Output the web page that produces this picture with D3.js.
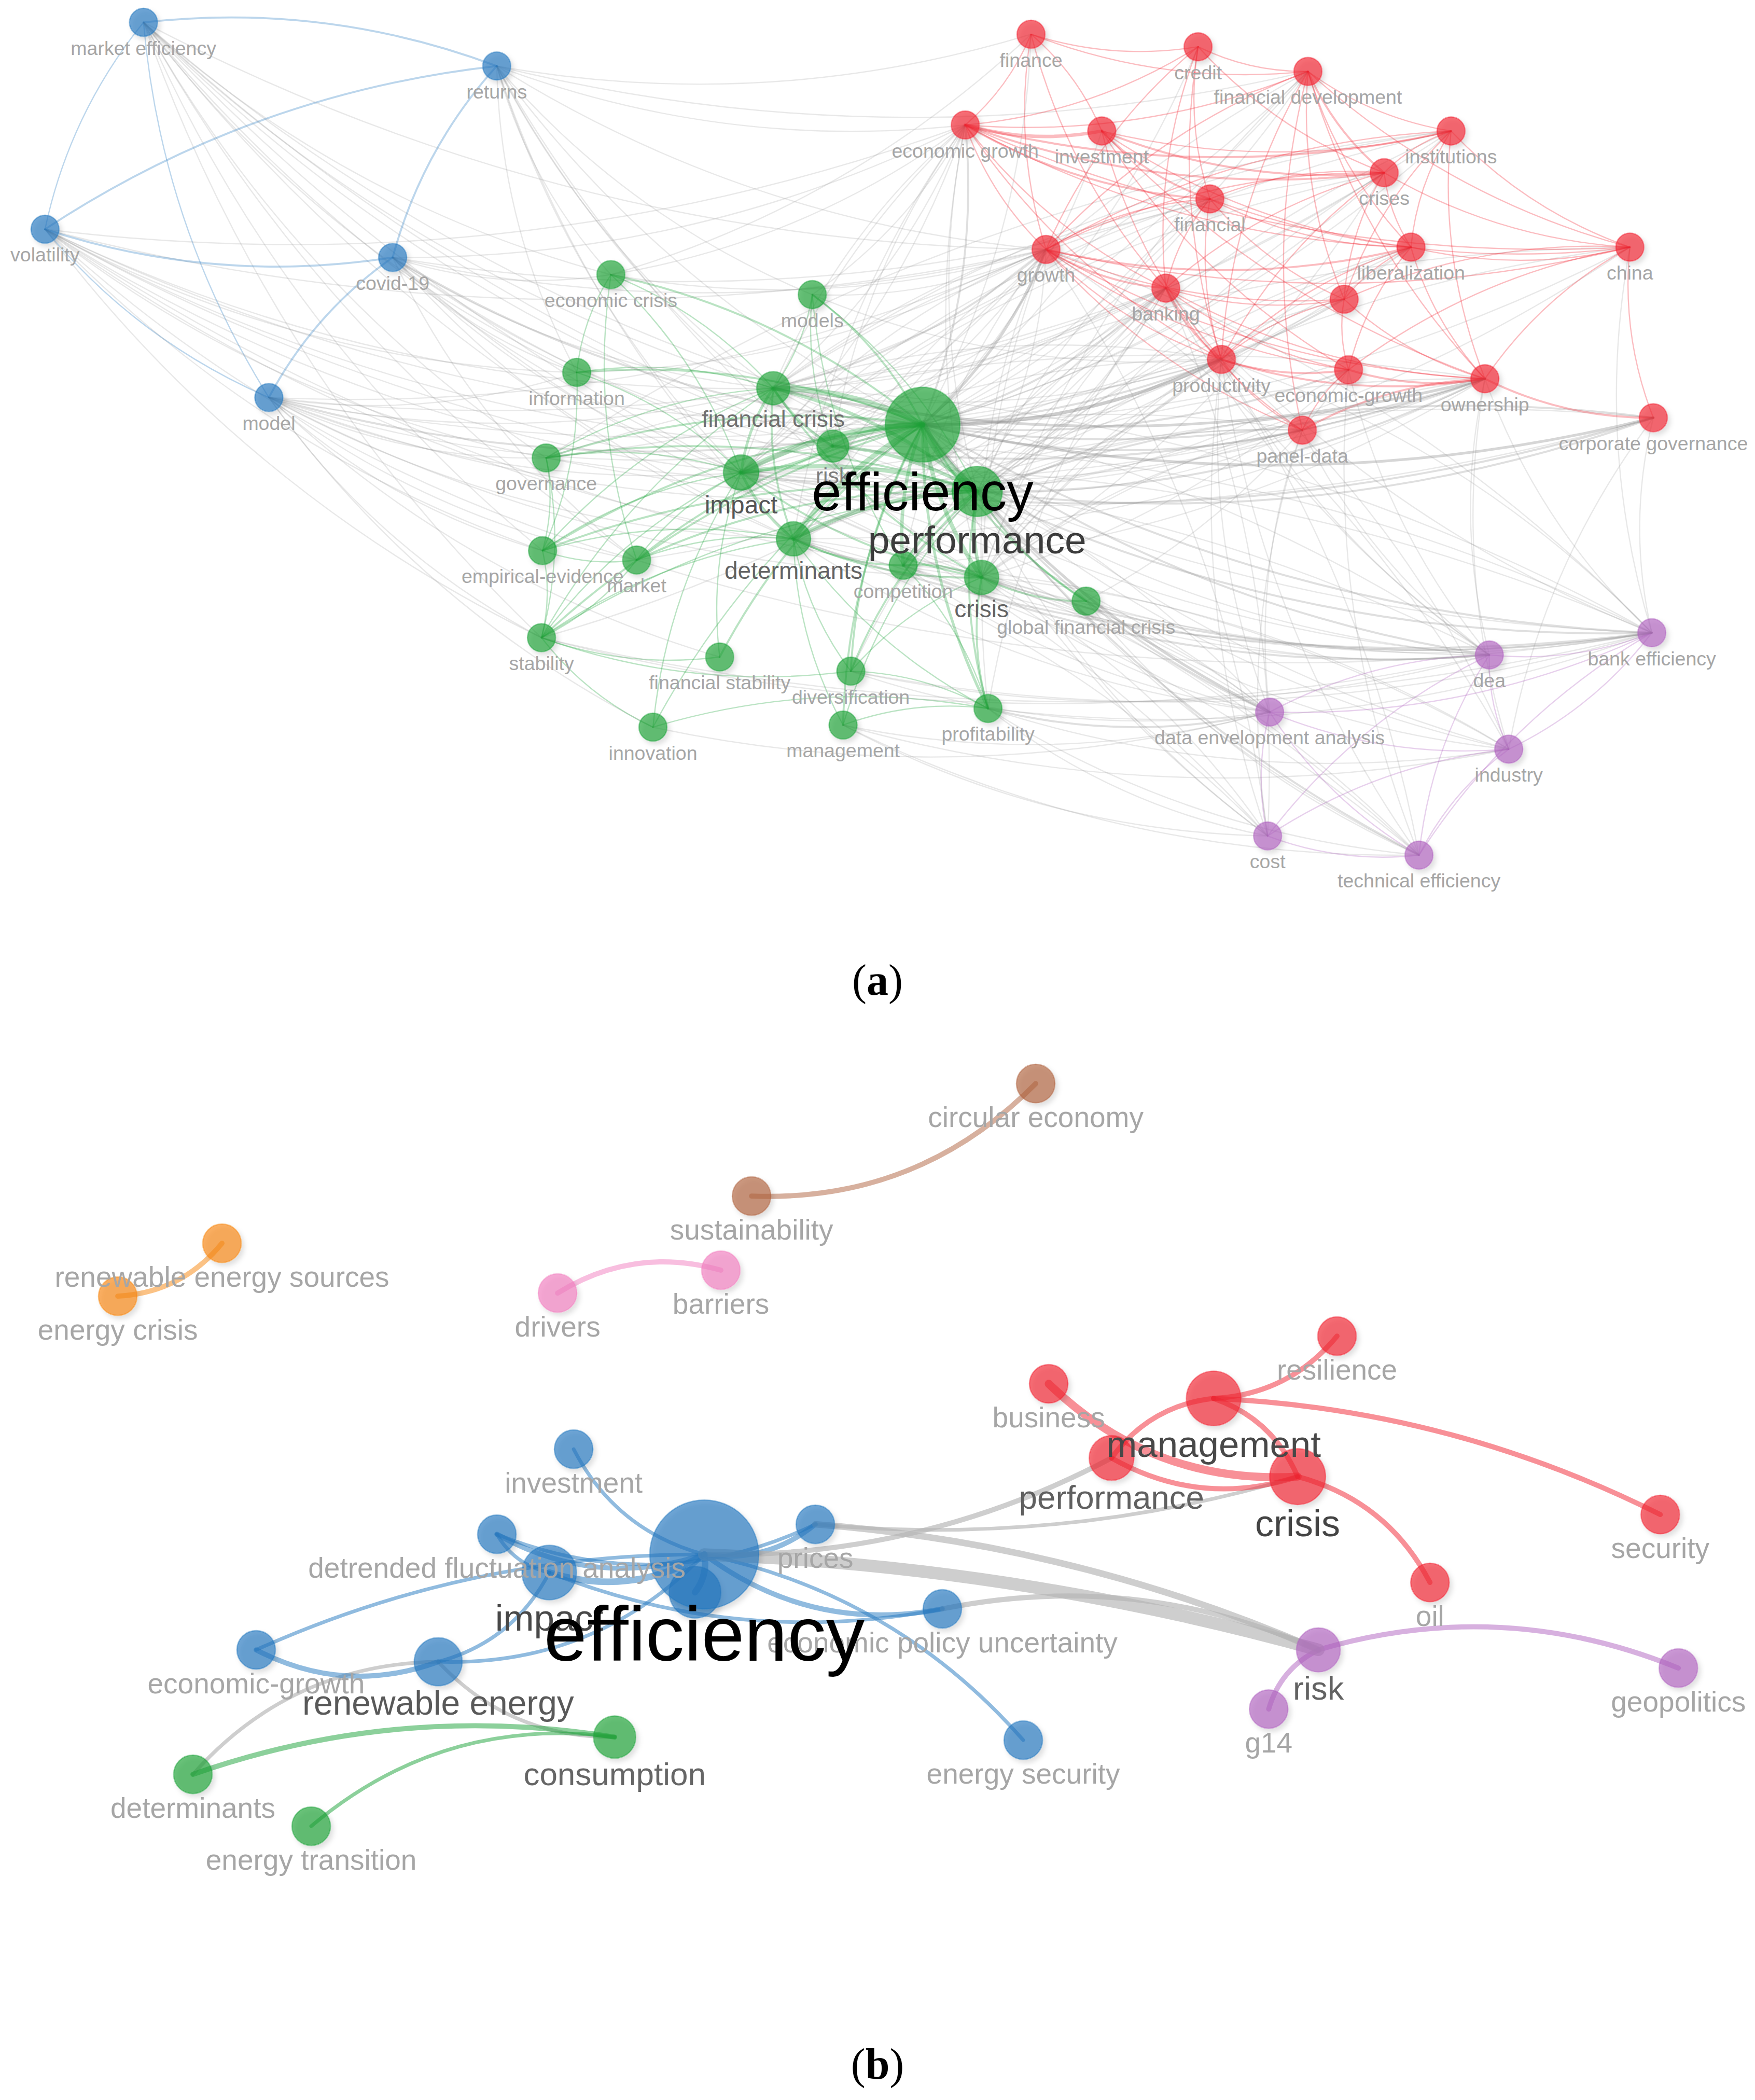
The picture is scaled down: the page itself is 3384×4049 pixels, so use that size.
<!DOCTYPE html>
<html>
<head>
<meta charset="utf-8">
<script src="https://cdn.jsdelivr.net/npm/d3@7"></script>
<style>
  body { margin: 0; background: #fff; }
  svg text { font-family: "Liberation Sans", Arial, sans-serif; }
</style>
</head>
<body>
<div id="chart"></div>
<script>
// Map coordinates (layout units) and occurrences, one array per cluster
// Panel (a)
const redA = [
    ["finance", 769.6, 25.6, 10],
    ["credit", 894.3, 34.9, 10],
    ["financial development", 976.3, 53.3, 10],
    ["economic growth", 720.5, 93.3, 10],
    ["investment", 822.4, 97.8, 10],
    ["institutions", 1083.1, 97.8, 10],
    ["crises", 1033.2, 128.9, 10],
    ["financial", 903.1, 148.5, 10],
    ["growth", 780.8, 186.2, 10],
    ["liberalization", 1053.2, 184.5, 10],
    ["china", 1216.6, 184.5, 10],
    ["banking", 870.2, 215.1, 10],
    ["_red", 1003.3, 223.4, 10],
    ["productivity", 911.7, 268.3, 10],
    ["economic-growth", 1006.6, 276, 10],
    ["ownership", 1108.4, 282.7, 10],
    ["corporate governance", 1234.1, 311.8, 10],
    ["panel-data", 972.1, 321.1, 10]
];
const greenA = [
    ["economic crisis", 456, 205, 10],
    ["models", 606.3, 219.9, 10],
    ["information", 430.5, 278, 10],
    ["financial crisis", 577.2, 289.8, 14],
    ["efficiency", 688.7, 317, 71],
    ["risk", 621.7, 333, 13],
    ["performance", 729.4, 366.8, 32],
    ["impact", 553.2, 352.7, 16],
    ["governance", 407.7, 341.8, 10],
    ["empirical-evidence", 405, 411, 10],
    ["market", 475.2, 418, 10],
    ["determinants", 592.3, 402.2, 15],
    ["competition", 674.2, 422, 10],
    ["crisis", 732.7, 431, 15],
    ["global financial crisis", 810.7, 448.7, 10],
    ["stability", 404.2, 476, 10],
    ["financial stability", 537.2, 490.4, 10],
    ["diversification", 635.1, 501, 10],
    ["profitability", 737.5, 528.8, 10],
    ["innovation", 487.4, 542.8, 10],
    ["management", 629.3, 541.2, 10]
];
const blueA = [
    ["market efficiency", 107.1, 16.7, 10],
    ["returns", 370.8, 49.3, 10],
    ["volatility", 33.6, 171.1, 10],
    ["covid-19", 293.1, 192.2, 10],
    ["model", 200.7, 296.7, 10]
];
const purpleA = [
    ["bank efficiency", 1233, 472.3, 10],
    ["dea", 1111.7, 488.9, 10],
    ["data envelopment analysis", 947.7, 531.5, 10],
    ["industry", 1126.2, 559.2, 10],
    ["cost", 946.2, 624, 10],
    ["technical efficiency", 1059.2, 638.3, 10]
];
const linksA = [
    "returns > volatility 2, market efficiency 2, covid-19 2",
    "market efficiency > volatility 1, model 1",
    "volatility > covid-19 2, model 1",
    "covid-19 > model 2",
    "market efficiency > efficiency 1, performance 1, financial crisis 1, impact 1, determinants 1, information 1, economic crisis 1, risk 1, crisis 1, growth 1, stability 1, governance 1, market 1, empirical-evidence 1",
    "returns > efficiency 1, economic crisis 1, financial crisis 1, impact 1, models 1, information 1, determinants 1, growth 1, finance 1, financial development 1, economic growth 1, risk 1, crisis 1",
    "volatility > efficiency 1, economic growth 1, impact 1, financial crisis 1, information 1, governance 1, determinants 1, performance 1, stability 1, growth 1, market 1, empirical-evidence 1, risk 1, crisis 1",
    "covid-19 > efficiency 2, performance 1, impact 1, financial crisis 1, risk 1, economic crisis 1, crisis 1, determinants 1, information 1, market 1, growth 1, economic growth 1, financial 1",
    "model > efficiency 2, performance 1, impact 1, financial crisis 1, determinants 1, risk 1, information 1, governance 1, market 1, stability 1, productivity 1, banking 1, growth 1, empirical-evidence 1, financial stability 1, innovation 1, crisis 1",
    "efficiency > performance 10, financial crisis 7, impact 7, risk 6, determinants 6, crisis 5, competition 4, economic crisis 2, models 2, information 2, governance 2, empirical-evidence 2, market 2, stability 2, financial stability 2, diversification 2, profitability 3, innovation 1, management 2, global financial crisis 2",
    "performance > financial crisis 4, impact 5, risk 4, determinants 5, crisis 4, competition 3, profitability 2, diversification 2, governance 2, empirical-evidence 2, market 2, stability 1, models 1, management 1, global financial crisis 2",
    "financial crisis > impact 3, risk 3, determinants 2, crisis 2, economic crisis 1, models 1, information 1, governance 1, stability 1, empirical-evidence 1",
    "impact > risk 3, determinants 3, crisis 2, governance 1, information 1, empirical-evidence 1, market 1, stability 1, innovation 1, financial stability 1, economic crisis 1",
    "determinants > crisis 2, competition 2, market 1, stability 1, empirical-evidence 1, diversification 1, profitability 1, management 1",
    "crisis > competition 2, global financial crisis 2, profitability 2, diversification 1",
    "stability > empirical-evidence 1, governance 1, market 1, financial stability 1, innovation 1, diversification 1",
    "empirical-evidence > governance 1, market 1, information 1",
    "profitability > diversification 1, management 1, innovation 1, competition 1",
    "models > risk 1, competition 1",
    "economic crisis > information 1, market 1",
    "efficiency > growth 3, productivity 4, banking 2, economic growth 2, economic-growth 2, ownership 2, panel-data 2, financial development 1, investment 1, credit 1, finance 1, financial 1, crises 1, institutions 1, liberalization 1, china 1, corporate governance 3, _red 2, dea 2, bank efficiency 2, data envelopment analysis 3, industry 1, cost 1, technical efficiency 2",
    "performance > productivity 2, ownership 2, corporate governance 2, banking 1, growth 1, economic-growth 1, panel-data 1, data envelopment analysis 2, dea 1, bank efficiency 2, industry 1, cost 1, technical efficiency 1, china 1",
    "financial crisis > growth 2, banking 1, financial development 1, economic growth 1, crises 1, productivity 1, ownership 3, bank efficiency 1",
    "impact > growth 1, economic growth 1, financial development 1, productivity 1, panel-data 1, ownership 1, corporate governance 2, dea 1",
    "determinants > data envelopment analysis 1, bank efficiency 2, ownership 1, banking 1",
    "crisis > bank efficiency 2, dea 1, data envelopment analysis 1, economic-growth 1, crises 1",
    "risk > banking 1, growth 1, ownership 2, dea 1",
    "competition > banking 1, bank efficiency 1, ownership 1, dea 2, data envelopment analysis 1",
    "global financial crisis > dea 1, industry 1, economic-growth 1, bank efficiency 1, technical efficiency 1",
    "profitability > data envelopment analysis 2, bank efficiency 1, industry 1, cost 1, technical efficiency 1",
    "economic crisis > growth 1, finance 1, economic growth 1",
    "models > growth 1, economic growth 1, productivity 1",
    "information > growth 1",
    "governance > ownership 1, corporate governance 1, institutions 1",
    "management > cost 1, industry 1, technical efficiency 1, data envelopment analysis 1",
    "diversification > bank efficiency 1, dea 1, data envelopment analysis 1",
    "market > liberalization 1, bank efficiency 1",
    "stability > banking 1, bank efficiency 1, dea 1",
    "innovation > data envelopment analysis 1",
    "growth > impact 1, determinants 1, crisis 1, competition 1, profitability 1",
    "productivity > determinants 1, competition 1, crisis 1, impact 1, financial crisis 1",
    "banking > crisis 1, determinants 1, profitability 1, competition 1, diversification 1",
    "ownership > determinants 1, crisis 1, governance 1",
    "economic growth > impact 1, financial crisis 1, determinants 1, performance 1, risk 1, crisis 1",
    "financial development > crisis 1, determinants 1",
    "liberalization > crisis 1, competition 1, performance 1",
    "crises > financial crisis 1, impact 1, crisis 1",
    "institutions > governance 1, impact 1, performance 1, financial crisis 1",
    "china > performance 1, impact 1",
    "corporate governance > performance 2, determinants 1",
    "financial > impact 1, performance 1, financial crisis 1",
    "panel-data > performance 1, crisis 1, impact 1, determinants 1",
    "_red > performance 1, crisis 1",
    "data envelopment analysis > crisis 1, impact 1, financial crisis 1, determinants 1",
    "bank efficiency > impact 1, financial crisis 1, risk 1, productivity 1, growth 1",
    "dea > impact 1, financial crisis 1",
    "industry > crisis 1, competition 1, productivity 1, growth 1",
    "cost > determinants 1, crisis 1, impact 1, banking 1, growth 1",
    "technical efficiency > determinants 1, impact 1, crisis 1, banking 1",
    "economic growth > investment 4, finance 1, credit 1, financial development 1, institutions 2, crises 2, financial 2, growth 1, banking 1, productivity 1, liberalization 1, china 1",
    "investment > finance 1, financial 2, crises 2, institutions 1, productivity 1, liberalization 1, ownership 1, economic-growth 1",
    "finance > credit 1, growth 1, banking 1, financial development 1",
    "credit > financial development 1, financial 1, crises 1, growth 1, productivity 1, banking 1",
    "financial development > institutions 1, crises 2, china 1, growth 1, liberalization 1, _red 1, productivity 1, panel-data 1, ownership 1",
    "institutions > crises 1, china 1, liberalization 1, _red 1, ownership 1, growth 1",
    "crises > financial 1, liberalization 1, growth 1, productivity 1, china 1, banking 1, _red 1",
    "financial > growth 1, liberalization 1, banking 1, china 1, _red 1, productivity 1",
    "growth > liberalization 2, banking 2, china 1, _red 1, productivity 1, economic-growth 1, ownership 1, panel-data 1",
    "liberalization > china 1, _red 1, economic-growth 1, ownership 1, productivity 1",
    "china > corporate governance 1, ownership 1, _red 1, economic-growth 1",
    "banking > productivity 2, _red 1, ownership 1, economic-growth 1, panel-data 1",
    "_red > productivity 1, economic-growth 1, ownership 1",
    "productivity > economic-growth 2, ownership 2, panel-data 1",
    "economic-growth > ownership 2, panel-data 1",
    "ownership > corporate governance 2, panel-data 2",
    "productivity > data envelopment analysis 1, technical efficiency 1, cost 1, dea 1",
    "banking > bank efficiency 1, dea 1",
    "ownership > bank efficiency 1, industry 1, dea 1",
    "corporate governance > bank efficiency 1, industry 1",
    "economic-growth > technical efficiency 1, dea 1",
    "panel-data > dea 1, cost 1, data envelopment analysis 1",
    "china > bank efficiency 1",
    "dea > bank efficiency 1, data envelopment analysis 1, industry 1, cost 1, technical efficiency 1",
    "data envelopment analysis > industry 1, cost 1, technical efficiency 1, bank efficiency 1",
    "industry > cost 1, technical efficiency 1, bank efficiency 1",
    "cost > technical efficiency 1",
    "bank efficiency > technical efficiency 1"
];

// Panel (b)
const redB = [
    ["resilience", 998, 997.3, 10],
    ["business", 782.8, 1032.9, 10],
    ["management", 905.9, 1043.8, 20],
    ["performance", 829.7, 1088.3, 13.5],
    ["crisis", 968.6, 1102.2, 21],
    ["security", 1239.3, 1130.5, 10],
    ["oil", 1067.4, 1181.2, 10]
];
const blueB = [
    ["investment", 428.2, 1081.7, 10],
    ["prices", 608.6, 1137.8, 10],
    ["detrended fluctuation analysis", 370.9, 1145.2, 10],
    ["efficiency", 525.7, 1160.3, 80],
    ["impact", 410, 1173.8, 20],
    ["_blue", 518.8, 1188.5, 18],
    ["economic policy uncertainty", 703.4, 1200.9, 10],
    ["economic-growth", 191.2, 1231.5, 10],
    ["renewable energy", 327.1, 1240.4, 15.5],
    ["energy security", 763.8, 1298.9, 10]
];
const greenB = [
    ["consumption", 458.8, 1296.6, 12],
    ["determinants", 144, 1324.4, 10],
    ["energy transition", 232.3, 1363.1, 10]
];
const purpleB = [
    ["risk", 984.1, 1231.5, 13],
    ["g14", 947, 1275.7, 10],
    ["geopolitics", 1252.8, 1245.1, 10]
];
const orangeB = [
    ["renewable energy sources", 165.7, 928, 10],
    ["energy crisis", 87.9, 967.5, 10]
];
const pinkB = [
    ["drivers", 416.2, 965.2, 10],
    ["barriers", 538.1, 948.1, 10]
];
const brownB = [
    ["circular economy", 773.1, 808.8, 10],
    ["sustainability", 561, 892.8, 10]
];
const linksB = [
    "investment > efficiency 2",
    "detrended fluctuation analysis > efficiency 3, prices 2, impact 2",
    "efficiency > prices 3, economic policy uncertainty 3, economic-growth 2, performance 3",
    "impact > efficiency 4, economic policy uncertainty 2",
    "_blue > efficiency 4",
    "energy security > efficiency 2",
    "economic-growth > renewable energy 3",
    "renewable energy > impact 2, efficiency 2, consumption 2, determinants 2",
    "risk > efficiency 8, prices 4, economic policy uncertainty 3, g14 3",
    "prices > crisis 2",
    "consumption > determinants 3, energy transition 2",
    "business > crisis 5",
    "management > resilience 3, performance 3",
    "security > management 3",
    "crisis > management 3",
    "performance > crisis 3",
    "oil > crisis 3",
    "geopolitics > risk 3",
    "sustainability > circular economy 3",
    "energy crisis > renewable energy sources 3",
    "barriers > drivers 3"
];

const clusterColors = {
    red: "#f12230", green: "#1aa237", blue: "#2177bf", purple: "#b062bf",
    orange: "#f8860c", pink: "#f17ebf", brown: "#b0623e"
};

document.addEventListener("DOMContentLoaded", function () {
    const width = 3384, height = 4049;

    // layout units -> page pixels
    const x = d3.scaleLinear().domain([0, 1310]).range([0, width]);
    const y = d3.scaleLinear().domain([0, 1567.5]).range([0, height]);

    const svg = d3.select("#chart")
        .append("svg")
        .attr("width", width)
        .attr("height", height)
        .style("display", "block");

    svg.append("rect").attr("width", width).attr("height", height).attr("fill", "#fff");

    svg.append("defs").append("filter")
        .attr("id", "shadow")
        .attr("x", "-50%").attr("y", "-50%").attr("width", "200%").attr("height", "200%")
        .append("feDropShadow")
        .attr("dx", 5).attr("dy", 6).attr("stdDeviation", 5)
        .attr("flood-color", "#000").attr("flood-opacity", 0.18);

    function parseLinks(spec) {
        const out = [];
        spec.forEach(function (line) {
            const parts = line.split(" > ");
            parts[1].split(", ").forEach(function (item) {
                const i = item.lastIndexOf(" ");
                out.push({ source: parts[0], target: item.slice(0, i), w: +item.slice(i + 1) });
            });
        });
        return out;
    }

    function drawPanel(clusters, linkSpec, opt) {
        const g = svg.append("g");
        const nodes = [];
        Object.keys(clusters).forEach(function (c) {
            clusters[c].forEach(function (d) {
                nodes.push({ id: d[0], x: d[1], y: d[2], w: d[3], cluster: c });
            });
        });
        const byId = new Map(nodes.map(d => [d.id, d]));
        const links = parseLinks(linkSpec)
            .map(l => ({ s: byId.get(l.source), t: byId.get(l.target), w: l.w }))
            .filter(l => l.s && l.t)
            .sort((a, b) => a.w - b.w);

        const r = d3.scaleSqrt().domain([0, opt.maxW]).range([0, opt.maxR]);
        const font = d3.scaleLinear().domain(opt.fontDomain).range(opt.fontRange).clamp(true);
        const labelColor = d3.scaleLinear().domain(opt.colorDomain).range(opt.colorRange).clamp(true);
        const lineW = d3.scaleLinear().domain(opt.lineDomain).range(opt.lineRange);

        function curve(l) {
            const x1 = x(l.s.x), y1 = y(l.s.y), x2 = x(l.t.x), y2 = y(l.t.y);
            const len = Math.hypot(x2 - x1, y2 - y1);
            const k = opt.bend * Math.min(1, Math.pow(opt.refLen / len, 2));
            const p = d3.path();
            p.moveTo(x1, y1);
            p.quadraticCurveTo((x1 + x2) / 2 - k * (y2 - y1), (y1 + y2) / 2 + k * (x2 - x1), x2, y2);
            return p.toString();
        }

        const same = l => l.s.cluster === l.t.cluster;

        g.append("g").selectAll("path")
            .data(links)
            .enter().append("path")
            .attr("d", curve)
            .attr("fill", "none")
            .attr("stroke-linecap", "round")
            .attr("stroke", l => same(l) ? clusterColors[l.s.cluster] : opt.gray)
            .attr("stroke-opacity", l => same(l) ? opt.linkOpacity : Math.min(opt.grayMax, opt.grayOpacity + opt.grayStep * (l.w - 1)))
            .attr("stroke-width", l => lineW(l.w));

        const sorted = nodes.slice().sort((a, b) => a.w - b.w);

        g.append("g").selectAll("circle")
            .data(sorted)
            .enter().append("circle")
            .attr("cx", d => x(d.x))
            .attr("cy", d => y(d.y))
            .attr("r", d => r(d.w))
            .attr("fill", d => clusterColors[d.cluster])
            .attr("fill-opacity", 0.66)
            .attr("stroke", d => clusterColors[d.cluster])
            .attr("stroke-opacity", 0.45)
            .attr("stroke-width", 2.5)
            .attr("filter", "url(#shadow)");

        g.append("g").selectAll("text")
            .data(sorted.filter(d => d.id[0] !== "_"))
            .enter().append("text")
            .attr("x", d => x(d.x))
            .attr("y", d => y(d.y) + r(d.w) + Math.min(opt.gap * font(d.w), opt.gapMax))
            .attr("text-anchor", "middle")
            .attr("dominant-baseline", "central")
            .attr("font-size", d => font(d.w))
            .attr("fill", d => labelColor(d.w))
            .text(d => d.id);
    }

    drawPanel({ blue: blueA, red: redA, purple: purpleA, green: greenA }, linksA, {
        maxW: 71, maxR: 72,
        fontDomain: [10, 32, 71], fontRange: [37.5, 75, 103],
        colorDomain: [10, 16, 71], colorRange: ["#a6a6a6", "#555", "#000"],
        lineDomain: [1, 10], lineRange: [2.4, 15],
        bend: 0.12, refLen: 1e6, gap: 0.6, gapMax: 58,
        gray: "#8c8c8c", grayOpacity: 0.2, grayStep: 0.08, grayMax: 0.55, linkOpacity: 0.3
    });

    drawPanel({ orange: orangeB, pink: pinkB, brown: brownB, green: greenB, purple: purpleB, red: redB, blue: blueB }, linksB, {
        maxW: 80, maxR: 105,
        fontDomain: [10, 12, 21, 80], fontRange: [55, 62, 72, 149],
        colorDomain: [10, 12, 21, 80], colorRange: ["#a6a6a6", "#666", "#444", "#000"],
        lineDomain: [2, 8], lineRange: [7, 24],
        bend: 0.22, refLen: 620, gap: 0.5, gapMax: 48,
        gray: "#b4b4b4", grayOpacity: 0.65, grayStep: 0, grayMax: 0.65, linkOpacity: 0.5
    });

    // panel captions
    const captions = [["a", 1918], ["b", 4008]];
    captions.forEach(function (c) {
        const t = svg.append("text")
            .attr("x", width / 2)
            .attr("y", c[1])
            .attr("text-anchor", "middle")
            .attr("font-size", 84)
            .style("font-family", "'Liberation Serif', 'Times New Roman', serif")
            .attr("fill", "#000");
        t.append("tspan").text("(");
        t.append("tspan").attr("font-weight", "bold").text(c[0]);
        t.append("tspan").text(")");
    });
});
</script>
</body>
</html>
